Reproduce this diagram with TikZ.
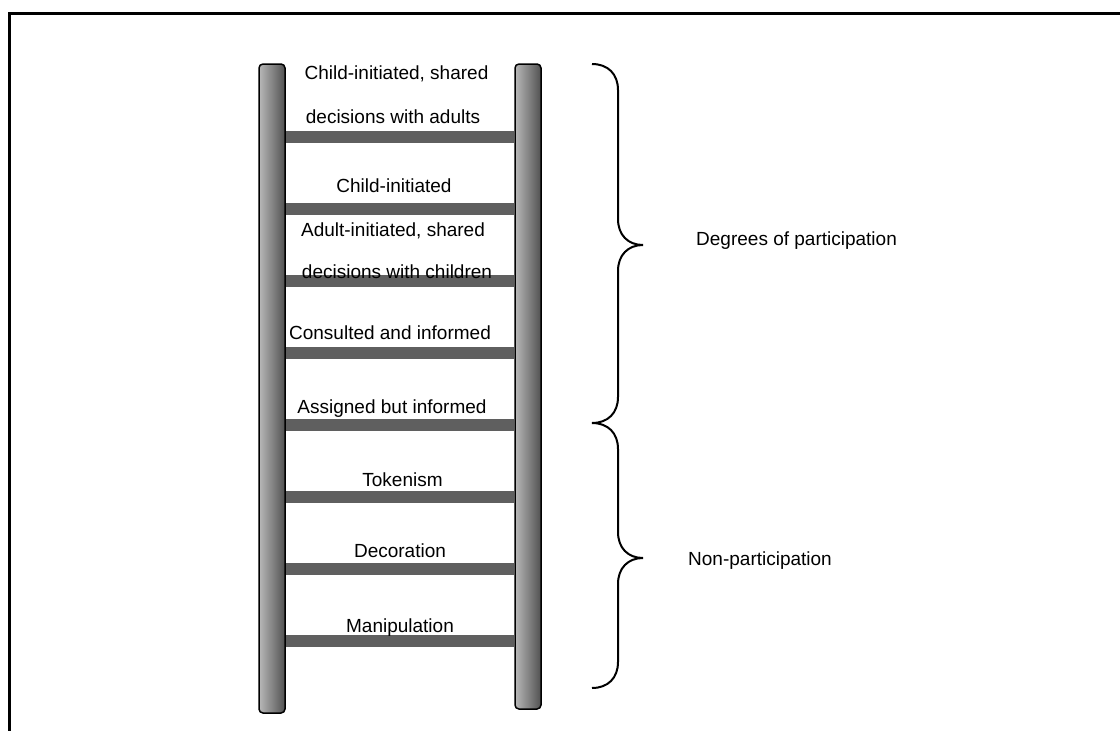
\documentclass[tikz,border=0pt]{standalone}
\usepackage{fontspec}
\setmainfont{Liberation Sans}
\definecolor{rungc}{RGB}{95,95,95}
\begin{document}
\begin{tikzpicture}[x=1pt,y=-1pt,
  rail/.style={draw=black,line width=1.5pt,rounded corners=4pt,left color=black!28,right color=black!68,minimum width=26pt,inner sep=0pt},
  rung/.style={draw=rungc,line width=12pt},
  lbl/.style={inner sep=0pt,anchor=base,font=\fontsize{19}{23}\selectfont},
  side/.style={inner sep=0pt,anchor=base west,font=\fontsize{19}{23}\selectfont},
  brace/.style={draw=black,line width=2pt}]
\useasboundingbox (0,0) rectangle (1120,731);
\draw[line width=3pt] (9.5,731) -- (9.5,13.5) -- (1120,13.5);
% rails
\node[rail,minimum height=649pt] (L) at (272,388.5) {};
\node[rail,minimum height=645pt] (R) at (528,386.5) {};
% rungs
\foreach \y/\n in {137/r1,209/r2,281/r3,353/r4,425/r5,497/r6,569/r7,641/r8}{
  \coordinate (\n a) at (L.east |- 0,\y);
  \coordinate (\n b) at (R.west |- 0,\y);
  \draw[rung] (\n a) -- (\n b);
}
% labels
\node[lbl] (t1) at (396.5,79) {Child-initiated, shared};
\node[lbl] (t2) at (393,123) {decisions with adults};
\node[lbl] (t3) at (394,192) {Child-initiated};
\node[lbl] (t4) at (393,236) {Adult-initiated, shared};
\node[lbl] (t5) at (397,278) {decisions with children};
\node[lbl] (t6) at (390,339) {Consulted and informed};
\node[lbl] (t7) at (392,413) {Assigned but informed};
\node[lbl] (t8) at (402.5,486) {Tokenism};
\node[lbl] (t9) at (400,557) {Decoration};
\node[lbl] (t10) at (400,632) {Manipulation};
% braces
\draw[brace] (592,64) .. controls (608,64) and (618,74) .. (618,90) -- (618,219)
  .. controls (618,235) and (628,245) .. (643,245)
  .. controls (628,245) and (618,255) .. (618,271) -- (618,397)
  .. controls (618,413) and (608,423) .. (592,423);
\draw[brace] (592,423) .. controls (608,423) and (618,433) .. (618,449) -- (618,532)
  .. controls (618,548) and (628,558) .. (643,558)
  .. controls (628,558) and (618,568) .. (618,584) -- (618,662)
  .. controls (618,678) and (608,688) .. (592,688);
\node[side] (d1) at (696,245) {Degrees of participation};
\node[side] (d2) at (688,565) {Non-participation};
\end{tikzpicture}
\end{document}
